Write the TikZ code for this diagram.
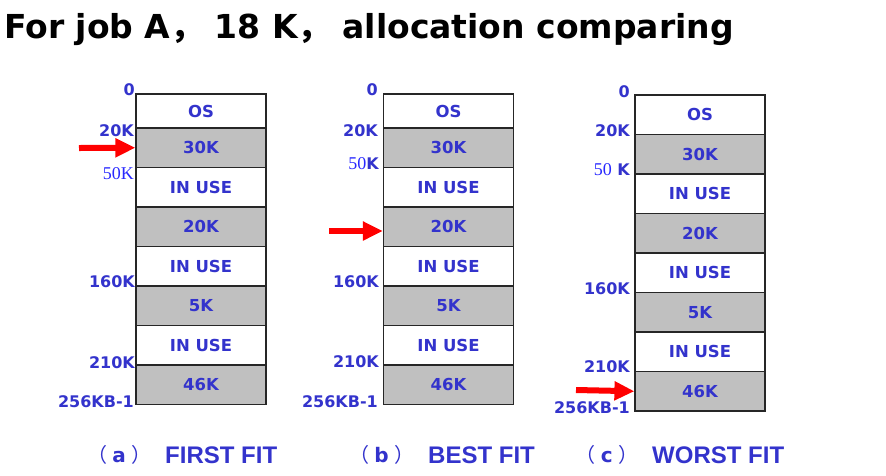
\documentclass[tikz,border=0pt]{standalone}
\usepackage{fontspec}
\setmainfont{DejaVu Sans}
\newfontfamily\serifnum{Liberation Serif}
\newfontfamily\capfont{Liberation Sans}
\newfontfamily\titlefont{DejaVu Sans}
\newfontfamily\cjk{Noto Sans CJK SC}
\usetikzlibrary{positioning,arrows.meta}
\definecolor{cText}{RGB}{51,51,204}
\definecolor{cNum}{RGB}{40,40,255}
\definecolor{cFree}{RGB}{192,192,192}
\definecolor{cArrow}{RGB}{255,0,0}

\begin{document}
\begin{tikzpicture}[x=1pt,y=-1pt,
   cell/.style={draw=black!85,line width=1.2pt,minimum width=130pt,minimum height=39.5pt,inner sep=0pt,text=cText,font=\fontsize{16.5}{16.5}\selectfont\bfseries},
   addr/.style={anchor=east,inner sep=0pt,text=cText,font=\fontsize{16}{16}\selectfont\bfseries},
   snum/.style={addr,text=cNum,font=\serifnum\fontsize{18}{18}\selectfont},
   fitarrow/.style={draw=cArrow,line width=6pt,-{Triangle[length=20pt,width=18pt]}},
   fitcap/.style={inner sep=0pt,text=cText,font=\capfont\fontsize{24}{24}\selectfont\bfseries},
   captag/.style={inner sep=0pt,text=cText,font=\fontsize{20}{20}\selectfont\bfseries}]
  \useasboundingbox (0,0) rectangle (886,475);
  % title
  \node[anchor=base west,inner sep=0pt,font=\titlefont\fontsize{33}{33}\selectfont\bfseries] (title) at (4,38) {For job A{\cjk ，} 18 K{\cjk ，} allocation comparing};
  % (a) first fit
  \node[cell,minimum height=34pt] (a1) at (201,111) {OS};
  \foreach \lab/\col [count=\i from 2] in {30K/cFree,IN USE/white,20K/cFree,IN USE/white,5K/cFree,IN USE/white,46K/cFree}
    \node[cell,fill=\col] (a\i) at (201,{128+(\i-2)*39.5+19.75}) {\lab};
  \node[addr] (a0) at (135,90) {0};
  \node[addr] (a20) at (134,131) {20K};
  \node[snum] (a50) at (134,174) {50K};
  \node[addr] (a160) at (135,282) {160K};
  \node[addr] (a210) at (135,363) {210K};
  \node[addr] (a256) at (134,402) {256KB-1};
  \coordinate (arrA) at (79,148);
  \draw[fitarrow] (arrA) -- (a2.west);
  % (b) best fit
  \node[cell,minimum height=34pt] (b1) at (448.5,111) {OS};
  \foreach \lab/\col [count=\i from 2] in {30K/cFree,IN USE/white,20K/cFree,IN USE/white,5K/cFree,IN USE/white,46K/cFree}
    \node[cell,fill=\col] (b\i) at (448.5,{128+(\i-2)*39.5+19.75}) {\lab};
  \node[addr] (b0) at (378,90) {0};
  \node[addr] (b20) at (378,131) {20K};
  \node[addr] (b50) at (379,164) {{\serifnum\mdseries\fontsize{18}{18}\selectfont\color{cNum}50}K};
  \node[addr] (b160) at (379,282) {160K};
  \node[addr] (b210) at (379,362) {210K};
  \node[addr] (b256) at (378,402) {256KB-1};
  \coordinate (arrB) at (329,231);
  \draw[fitarrow] (arrB) -- (b4.west |- arrB);
  % (c) worst fit
  \foreach \lab/\col [count=\i] in {OS/white,30K/cFree,IN USE/white,20K/cFree,IN USE/white,5K/cFree,IN USE/white,46K/cFree}
    \node[cell,fill=\col] (c\i) at (700,{95+(\i-1)*39.5+19.75}) {\lab};
  \node[addr] (c0) at (630,92) {0};
  \node[addr] (c20) at (630,131) {20K};
  \node[addr] (c50) at (630,170) {{\serifnum\mdseries\fontsize{18}{18}\selectfont\color{cNum}50} K};
  \node[addr] (c160) at (630,289) {160K};
  \node[addr] (c210) at (630,367) {210K};
  \node[addr] (c256) at (630,408) {256KB-1};
  \coordinate (arrC) at (576,390);
  \draw[fitarrow] (arrC) -- (c8.west);
  % captions
  \node[fitcap,anchor=west] (capA) at (165,455) {FIRST FIT};
  \node[captag,left=13pt of capA] (tagA) {{\cjk\mdseries （}\hspace{5pt}a\hspace{6pt}{\cjk\mdseries ）}};
  \node[fitcap,anchor=west] (capB) at (428,455) {BEST FIT};
  \node[captag,left=13pt of capB] (tagB) {{\cjk\mdseries （}\hspace{5pt}b\hspace{6pt}{\cjk\mdseries ）}};
  \node[fitcap,anchor=west] (capC) at (652,455) {WORST FIT};
  \node[captag,left=13pt of capC] (tagC) {{\cjk\mdseries （}\hspace{5pt}c\hspace{6pt}{\cjk\mdseries ）}};
\end{tikzpicture}
\end{document}
